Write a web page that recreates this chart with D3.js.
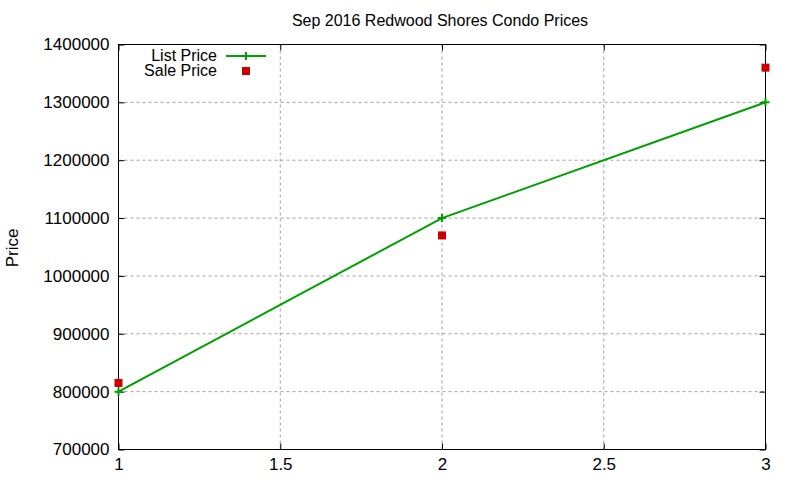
<!DOCTYPE html>
<html>
<head>
<meta charset="utf-8">
<script src="https://cdn.jsdelivr.net/npm/d3@7"></script>
<style>
  body { margin: 0; background: #fff; }
  text { font-family: "Liberation Sans", Arial, sans-serif; }
</style>
</head>
<body>
<div id="chart"></div>
<script>
const xValues = [1, 2, 3];
const listPrice = [800000, 1100000, 1300000];
const salePrice = [815000, 1070000, 1360000];
const xTicks = [1, 1.5, 2, 2.5, 3];
const yTicks = [700000, 800000, 900000, 1000000, 1100000, 1200000, 1300000, 1400000];

const width = 800, height = 480;
const margin = { top: 44.5, right: 34.5, bottom: 30.5, left: 118.5 };

const svg = d3.select("#chart").append("svg")
  .attr("width", width)
  .attr("height", height);

const x = d3.scaleLinear().domain([1, 3]).range([margin.left, width - margin.right]);
const y = d3.scaleLinear().domain([700000, 1400000]).range([height - margin.bottom, margin.top]);

// grid
svg.append("g").selectAll("line")
  .data(xTicks.slice(1, -1))
  .enter().append("line")
  .attr("x1", d => x(d)).attr("x2", d => x(d))
  .attr("y1", margin.top).attr("y2", height - margin.bottom)
  .attr("stroke", "#a0a0a0").attr("stroke-dasharray", "3,3");

svg.append("g").selectAll("line")
  .data(yTicks.slice(1, -1))
  .enter().append("line")
  .attr("x1", margin.left).attr("x2", width - margin.right)
  .attr("y1", d => y(d)).attr("y2", d => y(d))
  .attr("stroke", "#a0a0a0").attr("stroke-dasharray", "3,3");

// axes
const xAxis = svg.append("g")
  .attr("transform", `translate(0,${height - margin.bottom})`)
  .call(d3.axisBottom(x).tickValues(xTicks).tickSize(-6).tickPadding(8).tickFormat(d3.format("")));
const xAxisTop = svg.append("g")
  .attr("transform", `translate(0,${margin.top})`)
  .call(d3.axisTop(x).tickValues(xTicks).tickSize(-6).tickFormat(""));
const yAxis = svg.append("g")
  .attr("transform", `translate(${margin.left},0)`)
  .call(d3.axisLeft(y).tickValues(yTicks).tickSize(-6).tickPadding(9).tickFormat(d3.format("d")));
const yAxisRight = svg.append("g")
  .attr("transform", `translate(${width - margin.right},0)`)
  .call(d3.axisRight(y).tickValues(yTicks).tickSize(-6).tickFormat(""));

[xAxis, xAxisTop, yAxis, yAxisRight].forEach(g => {
  g.select(".domain").remove();
  g.selectAll("line").attr("stroke", "#000");
  g.selectAll("text").attr("fill", "#000").style("font-size", "17px")
    .style("font-family", "'Liberation Sans', Arial, sans-serif");
});

svg.append("rect")
  .attr("x", margin.left).attr("y", margin.top)
  .attr("width", width - margin.left - margin.right)
  .attr("height", height - margin.top - margin.bottom)
  .attr("fill", "none").attr("stroke", "#000");

// title and label
svg.append("text")
  .attr("x", 440).attr("y", 26)
  .attr("text-anchor", "middle")
  .style("font-size", "16px")
  .text("Sep 2016 Redwood Shores Condo Prices");

svg.append("text")
  .attr("transform", "translate(18,248) rotate(-90)")
  .attr("text-anchor", "middle")
  .style("font-size", "17px")
  .text("Price");

const green = "#00a000", red = "#cc0000";

// list price line
const line = d3.line().x((d, i) => x(xValues[i])).y(d => y(d));
svg.append("path")
  .datum(listPrice)
  .attr("d", line)
  .attr("fill", "none")
  .attr("stroke", green)
  .attr("stroke-width", 2);

function drawPlus(g, cx, cy) {
  g.append("path")
    .attr("d", `M${cx - 4},${cy}H${cx + 4}M${cx},${cy - 4}V${cy + 4}`)
    .attr("stroke", green).attr("stroke-width", 2).attr("fill", "none");
}
const marks = svg.append("g");
listPrice.forEach((d, i) => drawPlus(marks, x(xValues[i]), y(d)));

svg.append("g").selectAll("rect")
  .data(salePrice)
  .enter().append("rect")
  .attr("x", (d, i) => x(xValues[i]) - 4)
  .attr("y", d => y(d) - 4)
  .attr("width", 8).attr("height", 8)
  .attr("fill", red);

// legend
const legend = svg.append("g");
legend.append("text").attr("x", 217).attr("y", 61).attr("text-anchor", "end")
  .style("font-size", "16px").text("List Price");
legend.append("line").attr("x1", 226).attr("x2", 266).attr("y1", 56).attr("y2", 56)
  .attr("stroke", green).attr("stroke-width", 2);
drawPlus(legend, 246, 56);
legend.append("text").attr("x", 217).attr("y", 76).attr("text-anchor", "end")
  .style("font-size", "16px").text("Sale Price");
legend.append("rect").attr("x", 242).attr("y", 67).attr("width", 8).attr("height", 8)
  .attr("fill", red);
</script>
</body>
</html>
